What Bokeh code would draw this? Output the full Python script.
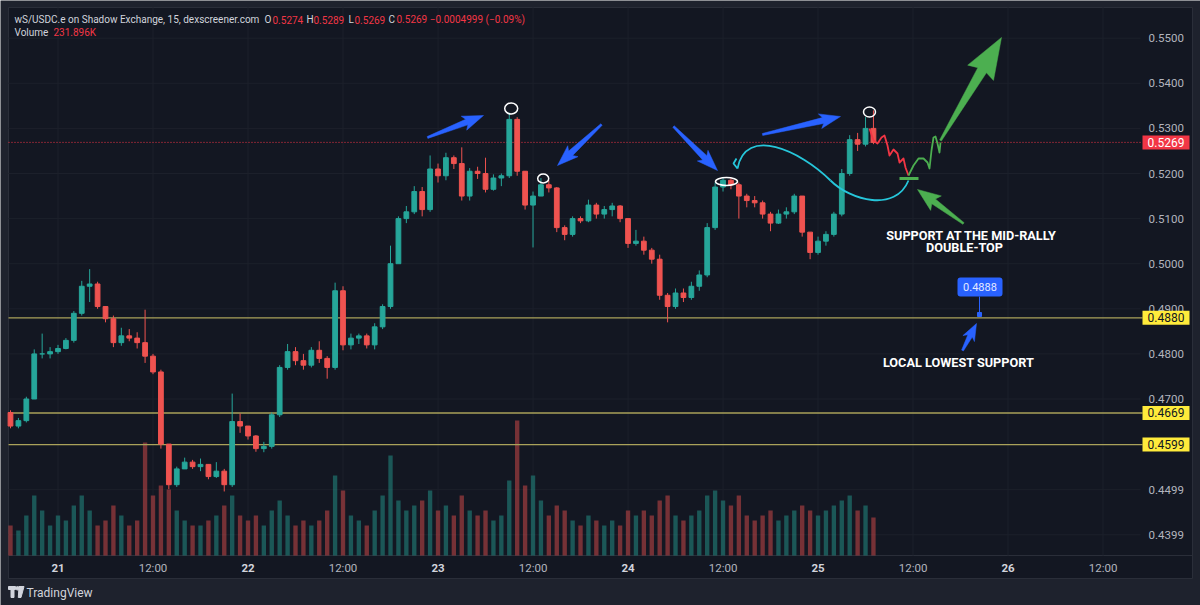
import math
from bokeh.plotting import figure
from bokeh.models import Range1d
from bokeh.core.properties import value
from bokeh.embed import file_html
from bokeh.resources import INLINE

# ---------------- data (hourly candles, hour 0 = 21st 00:00) ----------------
first_open = 0.4670
close = [0.4640, 0.4652, 0.4700, 0.4800, 0.4800, 0.4805,
         0.4812, 0.4830, 0.4890, 0.4950, 0.4955, 0.4905, 0.4878, 0.4825, 0.4840, 0.4835, 0.4825,
         0.4795, 0.4760, 0.4600, 0.4510, 0.4545, 0.4560, 0.4550, 0.4555, 0.4528, 0.4540, 0.4510,
         0.4650, 0.4640, 0.4618, 0.4590, 0.4595, 0.4665, 0.4770, 0.4805, 0.4785, 0.4775, 0.4808,
         0.4790, 0.4770, 0.4940, 0.4820, 0.4835, 0.4840, 0.4820, 0.4860, 0.4905, 0.5000, 0.5100,
         0.5115, 0.5160, 0.5120, 0.5210, 0.5195, 0.5235, 0.5222, 0.5150, 0.5205, 0.5200, 0.5165,
         0.5190, 0.5195, 0.5320, 0.5205, 0.5130, 0.5150, 0.5175, 0.5168, 0.5080, 0.5065, 0.5100,
         0.5095, 0.5130, 0.5110, 0.5120, 0.5128, 0.5100, 0.5045, 0.5050, 0.5030, 0.5010, 0.4930,
         0.4905, 0.4935, 0.4925, 0.4950, 0.4975, 0.5080, 0.5170, 0.5185, 0.5175, 0.5150, 0.5140,
         0.5135, 0.5110, 0.5090, 0.5110, 0.5115, 0.5150, 0.5070, 0.5025, 0.5050, 0.5065, 0.5110,
         0.5200, 0.5275, 0.5265, 0.5300, 0.5269]
high = [0.4675, 0.4658, 0.4705, 0.4810, 0.4845, 0.4815,
        0.4820, 0.4835, 0.4895, 0.4962, 0.4988, 0.4960, 0.4905, 0.4885, 0.4858, 0.4855, 0.4848,
        0.4898, 0.4800, 0.4765, 0.4600, 0.4550, 0.4570, 0.4565, 0.4568, 0.4555, 0.4560, 0.4545,
        0.4712, 0.4668, 0.4640, 0.4620, 0.4605, 0.4670, 0.4775, 0.4822, 0.4815, 0.4800, 0.4815,
        0.4828, 0.4795, 0.4958, 0.4950, 0.4845, 0.4845, 0.4845, 0.4868, 0.4910, 0.5040, 0.5105,
        0.5128, 0.5172, 0.5170, 0.5240, 0.5222, 0.5246, 0.5240, 0.5258, 0.5212, 0.5215, 0.5235,
        0.5198, 0.5200, 0.5335, 0.5325, 0.5205, 0.5160, 0.5190, 0.5185, 0.5170, 0.5085, 0.5105,
        0.5105, 0.5142, 0.5135, 0.5128, 0.5135, 0.5130, 0.5100, 0.5075, 0.5060, 0.5035, 0.5020,
        0.4935, 0.4945, 0.4945, 0.4960, 0.4985, 0.5090, 0.5180, 0.5192, 0.5190, 0.5180, 0.5155,
        0.5150, 0.5140, 0.5115, 0.5120, 0.5125, 0.5155, 0.5150, 0.5065, 0.5060, 0.5072, 0.5115,
        0.5210, 0.5285, 0.5290, 0.5325, 0.5340]
low = [0.4635, 0.4635, 0.4648, 0.4700, 0.4790, 0.4790,
       0.4800, 0.4810, 0.4825, 0.4885, 0.4915, 0.4900, 0.4870, 0.4815, 0.4818, 0.4828, 0.4812,
       0.4780, 0.4755, 0.4590, 0.4500, 0.4505, 0.4545, 0.4545, 0.4540, 0.4522, 0.4525, 0.4495,
       0.4505, 0.4625, 0.4610, 0.4583, 0.4582, 0.4590, 0.4660, 0.4765, 0.4775, 0.4765, 0.4770,
       0.4780, 0.4745, 0.4765, 0.4808, 0.4810, 0.4822, 0.4812, 0.4810, 0.4855, 0.4900, 0.5025,
       0.5090, 0.5110, 0.5105, 0.5115, 0.5180, 0.5185, 0.5210, 0.5140, 0.5140, 0.5188, 0.5158,
       0.5162, 0.5172, 0.5190, 0.5195, 0.5120, 0.5036, 0.5150, 0.5158, 0.5070, 0.5052, 0.5060,
       0.5090, 0.5092, 0.5100, 0.5100, 0.5105, 0.5092, 0.5035, 0.5040, 0.5020, 0.5000, 0.4920,
       0.4870, 0.4900, 0.4915, 0.4920, 0.4940, 0.4970, 0.5075, 0.5160, 0.5165, 0.5100, 0.5125,
       0.5125, 0.5100, 0.5072, 0.5088, 0.5100, 0.5110, 0.5060, 0.5010, 0.5020, 0.5040, 0.5060,
       0.5105, 0.5195, 0.5250, 0.5260, 0.5265]
volume_k = [300, 250, 400, 600, 450, 300,
            400, 350, 500, 600, 450, 300, 350, 500, 400, 300, 350,
            1130,
            600, 700, 660, 450, 350, 300, 300, 350, 400, 500, 600, 400, 350, 400, 300, 450, 550,
            400, 300, 350, 300, 350, 450,
            800, 650, 400, 350, 300, 450, 600, 1000, 550, 450, 500, 550, 650, 450, 500, 400, 600,
            450, 400, 450, 350, 400,
            750, 1350, 700, 800, 550, 400, 500, 450, 350, 300, 400, 350, 300, 350, 300, 450, 400,
            450, 400, 550, 600, 400, 350, 400, 450, 600, 650, 550, 500, 600, 400, 350, 400, 450,
            350, 400, 450, 500, 450, 400, 450, 500, 550, 600, 450, 500, 380]
first_hour = -6
hours = list(range(first_hour, first_hour + len(close)))
assert len(high) == len(close) == len(low) == len(volume_k)

level_lines = [0.4880, 0.4669, 0.4599]
last_price = 0.5269
marked_price = 0.4888
price_ticks = [0.4399, 0.4499, 0.4599, 0.4700, 0.4800, 0.4900, 0.5000, 0.5100,
               0.5200, 0.5300, 0.5400, 0.5500]
hidden_tick_labels = [0.4599]          # covered by the 0.4599 level box
day_ticks = [0, 24, 48, 72, 96, 120]
day_labels = ["21", "22", "23", "24", "25", "26"]
half_ticks = [12, 36, 60, 84, 108, 132]
half_labels = ["12:00"] * 6

# ---------------- helpers: screen pixel -> data ----------------
PX_H0, PX_PER_H = 57.5, 7.917
PY_REF, P_REF, PX_PER_P = 37.7, 0.55, 4510.0
W, H = 1200, 605
PANEL_L, PANEL_R, PANEL_T, PANEL_B = 8, 1192, 7, 578
PLOT_R, PLOT_B = 1140, 555


def X(px):
    return (px - PX_H0) / PX_PER_H


def Y(py):
    return P_REF - (py - PY_REF) / PX_PER_P


OUTER = "#1e222d"
BG = "#131722"
GRID = "#1c202b"
BORDER = "#2a2e39"
UP, DOWN = "#26a69a", "#ef5350"
AX_TXT, HDR_TXT = "#b2b5be", "#d1d4dc"
FONT = value("Roboto")

opens = [first_open] + close[:-1]
colors = [UP if c >= o else DOWN for o, c in zip(opens, close)]
body_top = [max(o, c) for o, c in zip(opens, close)]
body_bot = [min(o, c) for o, c in zip(opens, close)]

p = figure(width=W, height=H, output_backend="svg", toolbar_location=None,
           x_range=Range1d(X(0), X(W)), y_range=Range1d(Y(H), Y(0)),
           x_axis_location=None, y_axis_location=None, min_border=0,
           background_fill_color=OUTER, border_fill_color=OUTER, outline_line_color=None)
p.grid.visible = False
# volume scale: 0 sits on the time-axis separator, 10K per pixel
p.extra_y_ranges = {"vol": Range1d(-(H - PLOT_B) * 10, PLOT_B * 10)}

# panel
p.quad(left=[X(PANEL_L)], right=[X(PANEL_R)], top=[Y(PANEL_T)], bottom=[Y(PANEL_B)],
       fill_color=BG, line_color=BORDER, line_width=1)
p.segment(x0=[X(PANEL_L)], y0=[Y(PLOT_B)], x1=[X(PANEL_R)], y1=[Y(PLOT_B)],
          line_color=BORDER, line_width=1)

# grid
p.segment(x0=[X(PANEL_L)] * len(price_ticks), y0=price_ticks,
          x1=[X(PLOT_R)] * len(price_ticks), y1=price_ticks, line_color=GRID, line_width=1)
all_t = day_ticks + half_ticks
p.segment(x0=all_t, y0=[Y(PANEL_T)] * len(all_t), x1=all_t, y1=[Y(PLOT_B)] * len(all_t),
          line_color=GRID, line_width=1)

# price scale labels
shown = [t for t in price_ticks if t not in hidden_tick_labels]
p.text(x=[X(1148)] * len(shown), y=shown, text=[f"{t:.4f}" for t in shown],
       text_font=FONT, text_font_size="11.5px", text_color=AX_TXT,
       text_align="left", text_baseline="middle")
# time scale labels
p.text(x=half_ticks, y=[Y(567)] * len(half_ticks), text=half_labels, text_font=FONT,
       text_font_size="11.5px", text_color=AX_TXT, text_align="center", text_baseline="middle")
p.text(x=day_ticks, y=[Y(567)] * len(day_ticks), text=day_labels, text_font=FONT,
       text_font_size="11.5px", text_font_style="bold", text_color=HDR_TXT,
       text_align="center", text_baseline="middle")

# volume
p.vbar(x=hours, top=volume_k, width=0.55, y_range_name="vol",
       fill_color=colors, line_color=None, fill_alpha=0.45)

# levels
p.segment(x0=[X(PANEL_L)] * 3, y0=level_lines, x1=[X(1142)] * 3, y1=level_lines,
          line_color="#aaa25a", line_width=1.3)
p.segment(x0=[X(PANEL_L)], y0=[last_price], x1=[X(1142)], y1=[last_price],
          line_color="#f23645", line_width=1, line_dash="1 2")

# candles
p.segment(x0=hours, y0=high, x1=hours, y1=low, line_color=colors, line_width=1)
p.vbar(x=hours, top=body_top, bottom=body_bot, width=0.6, fill_color=colors, line_color=colors)


# ---------------- hand drawings ----------------
def arrow(tail, tip, head_len, head_w, tail_w, neck_w):
    dx, dy = tip[0] - tail[0], tip[1] - tail[1]
    L = math.hypot(dx, dy)
    ux, uy = dx / L, dy / L
    nx, ny = -uy, ux
    kx, ky = tip[0] - ux * head_len, tip[1] - uy * head_len
    bx, by = kx - ux * 3, ky - uy * 3
    pts = [(tail[0] + nx * tail_w / 2, tail[1] + ny * tail_w / 2),
           (kx + nx * neck_w / 2, ky + ny * neck_w / 2),
           (bx + nx * head_w / 2, by + ny * head_w / 2),
           tip,
           (bx - nx * head_w / 2, by - ny * head_w / 2),
           (kx - nx * neck_w / 2, ky - ny * neck_w / 2),
           (tail[0] - nx * tail_w / 2, tail[1] - ny * tail_w / 2)]
    return [X(a) for a, b in pts], [Y(b) for a, b in pts]


BLUE, GREEN, CYAN, RED = "#2962ff", "#4caf50", "#26c6da", "#f23645"
blue_arrows = [((427, 137), (483, 115)), ((601, 124), (557, 165)),
               ((673, 126), (717, 170)), ((762, 134), (840, 116))]
for tail, tip in blue_arrows:
    xs, ys = arrow(tail, tip, 18, 15, 2, 6)
    p.patch(xs, ys, fill_color=BLUE, line_color=BLUE, line_width=0.5)
xs, ys = arrow((962, 350), (976, 323), 14, 13, 2, 5)
p.patch(xs, ys, fill_color=BLUE, line_color=BLUE, line_width=0.5)
xs, ys = arrow((940, 140), (1001, 37), 38, 30, 2, 10)
p.patch(xs, ys, fill_color=GREEN, line_color=GREEN, line_width=0.5)
xs, ys = arrow((963, 223), (917, 189), 20, 18, 2, 6)
p.patch(xs, ys, fill_color=GREEN, line_color=GREEN, line_width=0.5)

# circles around tops
for (cx, cy, w, h) in [(510.7, 108, 13, 11), (542.7, 178, 11, 9), (726, 181, 22, 8), (869, 111.5, 12, 10)]:
    p.ellipse(x=[X(cx)], y=[Y(cy)], width=w, height=h, width_units="screen",
              height_units="screen", fill_color=None, line_color="white", line_width=1.5)

# cyan curve
p.bezier(x0=[X(737), X(830)], y0=[Y(168), Y(180)], x1=[X(830), X(908)], y1=[Y(180), Y(180)],
         cx0=[X(745), X(850)], cy0=[Y(125), Y(200)], cx1=[X(800), X(895)], cy1=[Y(150), Y(212)],
         line_color=CYAN, line_width=1.8)
p.line([X(737), X(733), X(736)], [Y(168), Y(163), Y(158)], line_color=CYAN, line_width=1.8)

# red and green squiggles
red_px = [(869, 128), (873, 140), (877, 143), (881, 137), (884, 135), (887, 145), (889, 155),
          (893, 149), (897, 153), (899, 162), (903, 158), (905, 167), (908, 175)]
green_px = [(908, 175), (913, 165), (918, 158), (923, 158), (927, 162), (929, 168), (931, 150),
            (933, 137), (935, 136), (937, 143), (939, 152), (940, 142)]
p.line([X(a) for a, b in red_px], [Y(b) for a, b in red_px], line_color=RED, line_width=1.8,
       line_join="round")
p.line([X(a) for a, b in green_px], [Y(b) for a, b in green_px], line_color=GREEN, line_width=1.8,
       line_join="round")
p.line([X(899), X(918)], [Y(178), Y(178)], line_color=GREEN, line_width=3)

# marker 0.4888 (box + stem + dot)
p.segment(x0=[X(979)], y0=[Y(296)], x1=[X(979)], y1=[Y(314)], line_color=BLUE, line_width=1)
p.scatter([X(979)], [Y(314)], marker="square", size=4, color=BLUE)
p.rect(x=[X(979.5)], y=[Y(286.5)], width=45, height=19, width_units="screen",
       height_units="screen", fill_color=BLUE, line_color=None, border_radius=3)
p.text(x=[X(979.5)], y=[Y(286.5)], text=[f"{marked_price:.4f}"], text_font=FONT,
       text_font_size="11px", text_color="#e3e9ff", text_align="center", text_baseline="middle")

# texts
for txt, cx, cy in [("SUPPORT AT THE MID-RALLY", 971, 235), ("DOUBLE-TOP", 964, 247),
                    ("LOCAL LOWEST SUPPORT", 958, 362)]:
    p.text(x=[X(cx)], y=[Y(cy)], text=[txt], text_align="center", text_baseline="middle",
           text_color="white", text_font=FONT, text_font_style="bold", text_font_size="12.7px")

# header
hdr = [("wS/USDC.e on Shadow Exchange, 15, dexscreener.com", 14, 19, HDR_TXT),
       ("O", 264, 19, HDR_TXT), ("0.5274", 272, 19, RED),
       ("H", 306, 19, HDR_TXT), ("0.5289", 313, 19, RED),
       ("L", 348, 19, HDR_TXT), ("0.5269", 354, 19, RED),
       ("C", 388, 19, HDR_TXT), ("0.5269 \u22120.0004999 (\u22120.09%)", 396, 19, RED),
       ("Volume", 14, 32, HDR_TXT), ("231.896K", 53, 32, RED)]
for txt, x, y, col in hdr:
    p.text(x=[X(x)], y=[Y(y)], text=[txt], text_align="left", text_baseline="middle",
           text_color=col, text_font=FONT, text_font_size="10px")

# price boxes on the price scale
box_h = 7 / PX_PER_P
p.quad(left=[X(1142)] * 3, right=[X(1189)] * 3, top=[v + box_h for v in level_lines],
       bottom=[v - box_h for v in level_lines], fill_color="#ffeb3b", line_color=None)
p.text(x=[X(1147)] * 3, y=level_lines, text=[f"{v:.4f}" for v in level_lines], text_font=FONT,
       text_font_size="12px", text_color="#131722", text_align="left", text_baseline="middle")
p.quad(left=[X(1142)], right=[X(1189)], top=[last_price + box_h], bottom=[last_price - box_h],
       fill_color="#f23645", line_color=None)
p.text(x=[X(1147)], y=[last_price], text=[f"{last_price:.4f}"], text_font=FONT,
       text_font_size="12px", text_color="white", text_align="left", text_baseline="middle")

# footer: TradingView mark
fc = "#d1d4dc"
p.quad(left=[X(8)], right=[X(15)], top=[Y(586)], bottom=[Y(589)], color=fc)
p.quad(left=[X(10.5)], right=[X(13.5)], top=[Y(588)], bottom=[Y(597)], color=fc)
p.scatter([X(17)], [Y(587.8)], size=3.5, color=fc)
p.patch([X(18.5), X(23.5), X(20.5), X(17.8)], [Y(586), Y(586), Y(597), Y(597)], color=fc)
p.text(x=[X(26)], y=[Y(592)], text=["TradingView"], text_align="left", text_baseline="middle",
       text_color=fc, text_font=FONT, text_font_size="12px")

open("out.html", "w").write(file_html(p, INLINE))
